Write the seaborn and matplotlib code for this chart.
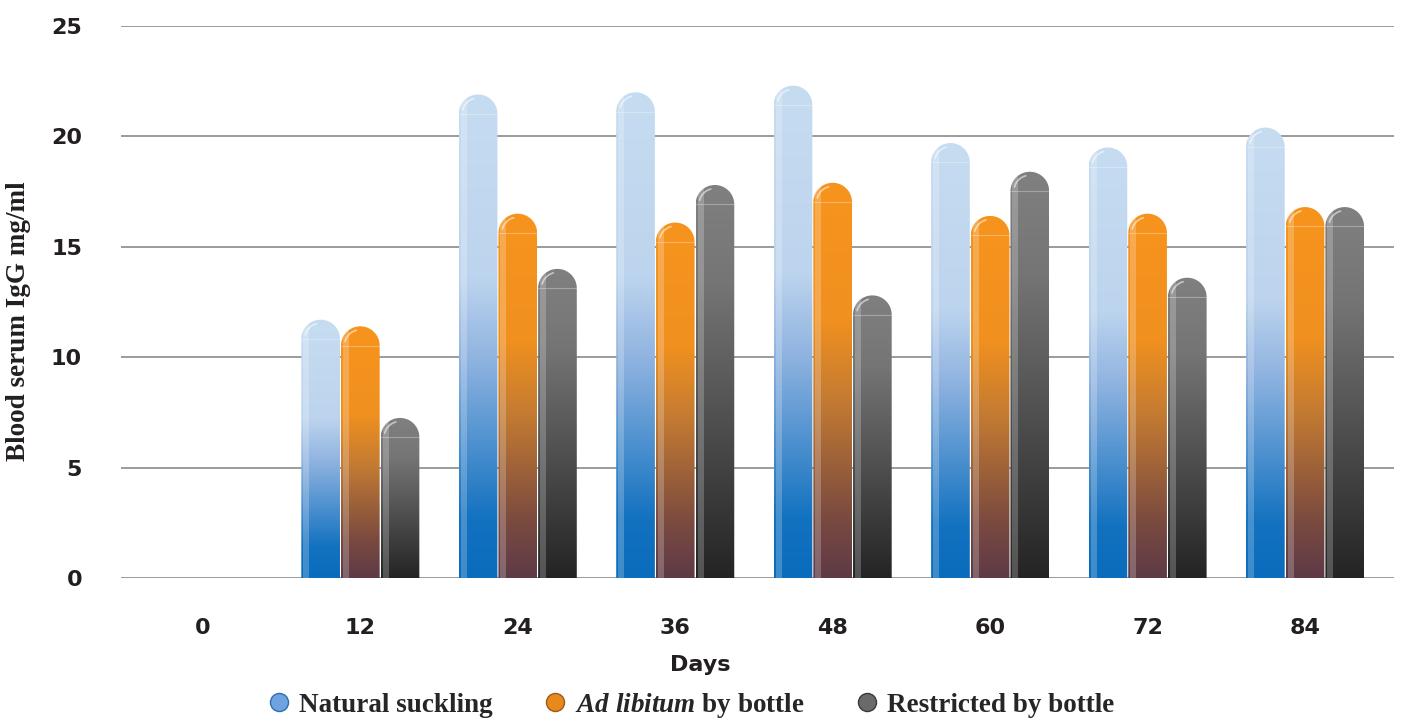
import matplotlib
matplotlib.use("Agg")
import matplotlib.pyplot as plt
import seaborn as sns
import pandas as pd
import numpy as np
from matplotlib.path import Path
from matplotlib.patches import PathPatch, Rectangle
from matplotlib.colors import LinearSegmentedColormap
from matplotlib.lines import Line2D

# data
days = ["0", "12", "24", "36", "48", "60", "72", "84"]
groups = ["Natural suckling", "Ad libitum by bottle", "Restricted by bottle"]
natural = [np.nan, 11.7, 21.9, 22.0, 22.3, 19.7, 19.5, 20.4]
ad_libitum = [np.nan, 11.4, 16.5, 16.1, 17.9, 16.4, 16.5, 16.8]
restricted = [np.nan, 7.25, 14.0, 17.8, 12.8, 18.4, 13.6, 16.8]

df = pd.DataFrame({
    "Day": days * 3,
    "Group": [groups[0]] * 8 + [groups[1]] * 8 + [groups[2]] * 8,
    "IgG": natural + ad_libitum + restricted,
})

# gradient per series (0 = bottom, 1 = top)
cmaps = [
    LinearSegmentedColormap.from_list("nat", [(0, "#0a6cbd"), (0.12, "#1372c0"), (0.45, "#8fb3e0"),
                                              (0.62, "#bdd4ee"), (1, "#c6dcf1")]),
    LinearSegmentedColormap.from_list("adl", [(0, "#5e3a47"), (0.15, "#7a4a40"), (0.45, "#c47b32"),
                                              (0.65, "#f0901f"), (1, "#f7941d")]),
    LinearSegmentedColormap.from_list("res", [(0, "#242424"), (0.45, "#555555"), (0.75, "#757575"),
                                              (1, "#808080")]),
]
mid_colors = ["#6fa3e0", "#e8891c", "#6a6a6a"]
edge_colors = ["#2e6db5", "#9a5a1a", "#3a3a3a"]

sns.set_style("white")
plt.rcParams["mathtext.fontset"] = "custom"
plt.rcParams["mathtext.it"] = "Liberation Serif:italic:bold"
plt.rcParams["mathtext.rm"] = "Liberation Serif:bold"

fig = plt.figure(figsize=(14.02, 7.19), dpi=100)
ax = fig.add_axes([0.0863, 0.1961, 0.9080, 0.7677])

sns.barplot(data=df, x="Day", y="IgG", hue="Group", order=days, hue_order=groups,
            palette=mid_colors, width=0.756, errorbar=None, legend=False, ax=ax)

xmin, xmax = -0.52, 7.565
ymax = 25
ax.set_xlim(xmin, xmax)
ax.set_ylim(0, ymax)

# pixel scale for round caps
ax_w_px = 0.9080 * 1402
ax_h_px = 0.7677 * 719
px_x = ax_w_px / (xmax - xmin)
px_y = ax_h_px / ymax

for gi, cont in enumerate(ax.containers):
    for bar in cont:
        bar.set_visible(False)
        x0 = bar.get_x()
        w = bar.get_width()
        h = bar.get_height()
        if np.isnan(h) or h <= 0:
            continue
        x0 += 0.5 / px_x
        w -= 1.0 / px_x
        rx = w / 2
        ry = (w * px_x / 2) / px_y
        xc = x0 + rx
        yc = h - ry
        th = np.linspace(np.pi, 0, 40)
        verts = [(x0, 0), (x0, yc)] + [(xc + rx * np.cos(t), yc + ry * np.sin(t)) for t in th] + [(x0 + w, 0), (x0, 0)]
        codes = [Path.MOVETO] + [Path.LINETO] * (len(verts) - 2) + [Path.CLOSEPOLY]
        patch = PathPatch(Path(verts, codes), facecolor="none", edgecolor="none")
        ax.add_patch(patch)
        grad = np.linspace(1, 0, 256).reshape(-1, 1)
        im = ax.imshow(grad, cmap=cmaps[gi], extent=(x0, x0 + w, 0, h), origin="upper",
                       aspect="auto", zorder=2, interpolation="bilinear")
        im.set_clip_path(patch)
        # light stripe on the left side
        strip = Rectangle((x0 + 2 / px_x, 0), 6 / px_x, h, facecolor="white", alpha=0.22,
                          edgecolor="none", zorder=3)
        ax.add_patch(strip)
        strip.set_clip_path(patch)
        # cap junction and highlight
        ax.plot([x0, x0 + w], [yc, yc], color="white", alpha=0.3, lw=0.8, zorder=3)
        ta = np.linspace(np.radians(105), np.radians(165), 20)
        ax.plot(xc + 0.82 * rx * np.cos(ta), yc + 0.82 * ry * np.sin(ta), color="white",
                alpha=0.55, lw=1.2, zorder=3, solid_capstyle="round")

ax.set_xlim(xmin, xmax)
ax.set_ylim(0, ymax)
ax.set_yticks([0, 5, 10, 15, 20, 25])
ax.yaxis.grid(True, color="#808080", linewidth=1.1)
ax.set_axisbelow(True)
sns.despine(ax=ax, left=True, bottom=True, top=True, right=True)
ax.tick_params(axis="both", length=0)
ax.tick_params(axis="x", pad=29)
ax.tick_params(axis="y", pad=28)
for lab in ax.get_xticklabels() + ax.get_yticklabels():
    lab.set_fontfamily("DejaVu Sans")
    lab.set_fontweight("heavy")
    lab.set_fontsize(16)
    lab.set_color("#231f20")

ax.set_xlabel("Days", fontsize=16, fontweight="heavy", family="DejaVu Sans", color="#231f20")
ax.xaxis.set_label_coords(0.455, -0.14)
ax.set_ylabel("Blood serum IgG mg/ml", fontsize=19.5, fontweight="bold",
              family="Liberation Serif", color="#231f20")
ax.yaxis.set_label_coords(-0.071, 0.465)

handles = [Line2D([], [], linestyle="none", marker="o", markersize=13,
                  markerfacecolor=mid_colors[i], markeredgecolor=edge_colors[i], markeredgewidth=1)
           for i in range(3)]
labels = ["Natural suckling", r"$\mathit{Ad\ libitum}$ by bottle", "Restricted by bottle"]
fig.legend(handles, labels, loc="lower center", bbox_to_anchor=(0.492, -0.035), ncol=3,
           frameon=False, columnspacing=1.8, handlelength=1.0, handletextpad=0.25,
           prop={"family": "Liberation Serif", "weight": "bold", "size": 19.5})

fig.savefig("out.png", dpi=100)
